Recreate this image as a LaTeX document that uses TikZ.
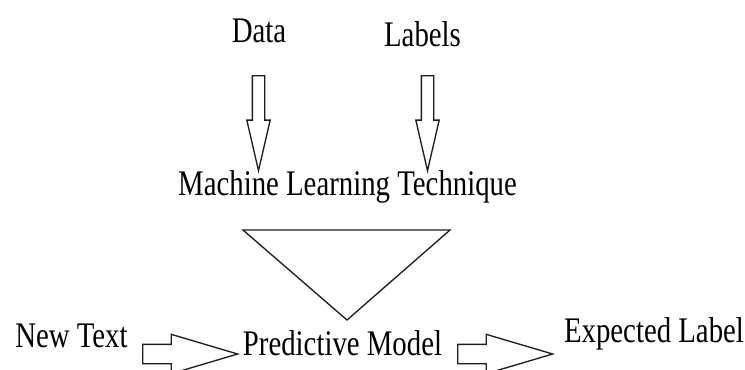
\documentclass[tikz,border=0pt]{standalone}
\usepackage{fontspec}
\setmainfont[FakeStretch=0.8]{Liberation Serif}
\usetikzlibrary{shapes.arrows,positioning}
\definecolor{mlInk}{RGB}{30,30,30}

\begin{document}
\begin{tikzpicture}[x=0.75pt, y=-0.75pt, line join=miter,
    lbl/.style={inner sep=0pt, anchor=base, font=\fontsize{27pt}{32pt}\selectfont},
    downarrow/.style={single arrow, draw=mlInk, line width=1pt, inner sep=4.125pt,
        shape border rotate=270, minimum height=71.25pt, minimum width=16.5pt,
        single arrow head extend=4.125pt, single arrow tip angle=26, anchor=tail},
    rightarrow/.style={single arrow, draw=mlInk, line width=1pt, inner sep=6.75pt,
        minimum height=71.25pt, minimum width=28.5pt,
        single arrow head extend=7.5pt, single arrow tip angle=33, anchor=tail}]
        \useasboundingbox[fill=white] (0,0) rectangle (745,369);
        \node[lbl] (data) at (259,42) {Data};
        \node[lbl] (labels) at (422.5,46) {Labels};
        \node[lbl] (technique) at (347.5,195) {Machine Learning Technique};
        \node[lbl, anchor=base west] (newtext) at (15,347) {New Text};
        \node[lbl] (model) at (342.5,355) {Predictive Model};
        \node[lbl] (expected) at (654,342) {Expected Label};
        \node[downarrow] (dataarrow) at (258.5,75) {};
        \node[downarrow] (labelsarrow) at (427.5,75) {};
        \node[rightarrow] (inarrow) at (142,354) {};
        \node[rightarrow] (outarrow) at (457,354) {};
        \draw[mlInk, line width=1pt] (243,230) -- (450,230) -- (347,320) -- cycle;
    \end{tikzpicture}
\end{document}
